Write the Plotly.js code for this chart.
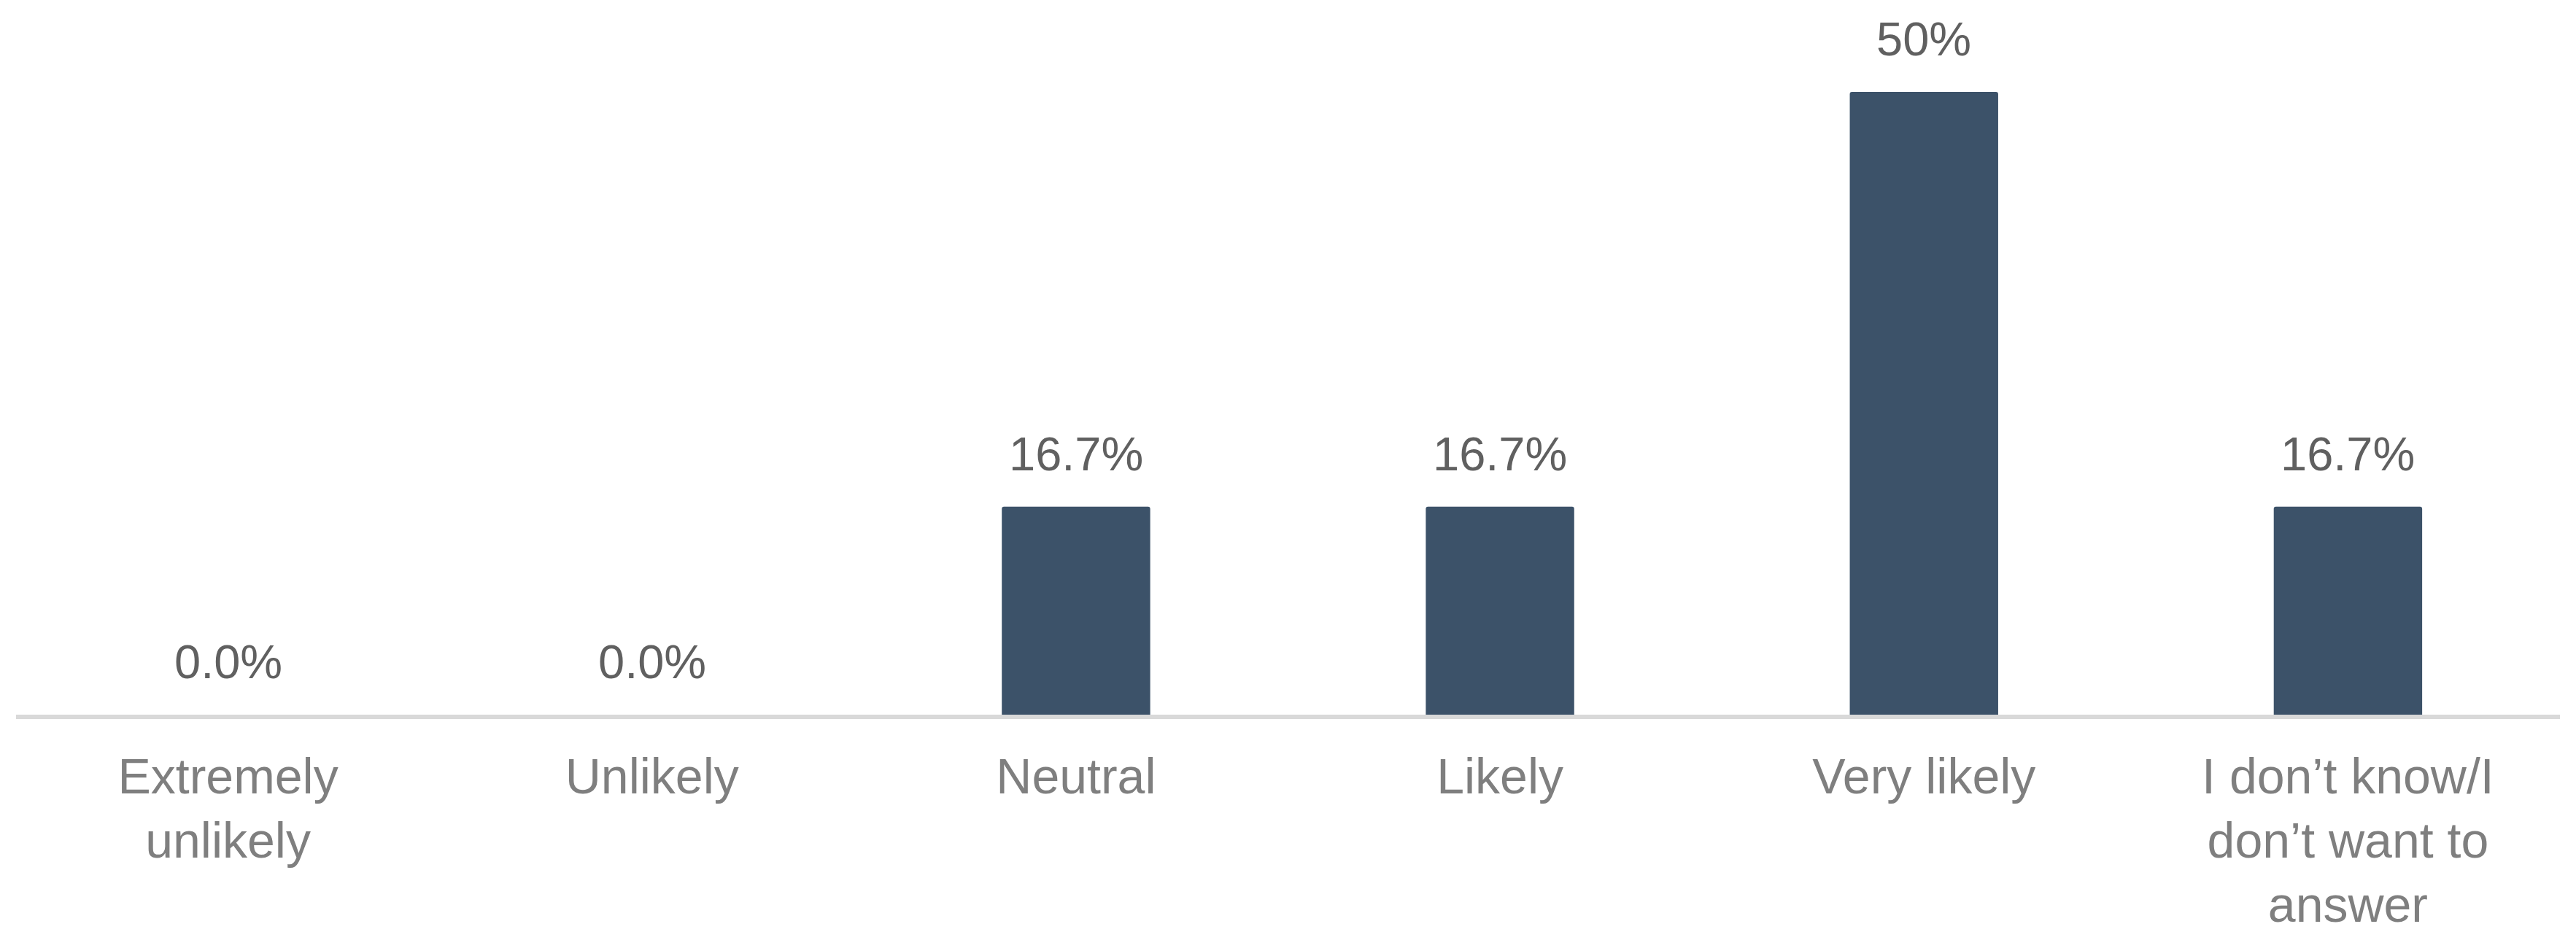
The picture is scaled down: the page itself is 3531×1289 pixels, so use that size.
<!DOCTYPE html>
<html>
<head>
<meta charset="utf-8">
<script src="https://cdn.plot.ly/plotly-3.0.1.min.js"></script>
<style>html,body{margin:0;padding:0;background:#fff;}#chart{width:3531px;height:1289px;}</style>
</head>
<body>
<div id="chart"></div>
<script>
const categories = ["Extremely unlikely", "Unlikely", "Neutral", "Likely", "Very likely", "I don’t know/I don’t want to answer"];
const tickLabels = ["Extremely<br>unlikely", "Unlikely", "Neutral", "Likely", "Very likely", "I don’t know/I<br>don’t want to<br>answer"];
const values = [0, 0, 16.7, 16.7, 50, 16.7];
const valueLabels = ["0.0%", "0.0%", "16.7%", "16.7%", "50%", "16.7%"];

const trace = {
  type: "bar",
  x: categories,
  y: values,
  marker: {color: "#3C5269", cornerradius: 3},
  hoverinfo: "skip"
};

const annotations = categories.map((c, i) => ({
  x: c, y: values[i], xref: "x", yref: "y",
  text: valueLabels[i], showarrow: false,
  yanchor: "bottom", yshift: 34,
  font: {family: "Liberation Sans, Arial, sans-serif", size: 65, color: "#606060"}
}));

const layout = {
  width: 3531, height: 1289,
  margin: {l: 22, r: 22, t: 40, b: 309, pad: 0},
  paper_bgcolor: "#ffffff", plot_bgcolor: "#ffffff",
  bargap: 0.65,
  showlegend: false,
  xaxis: {
    type: "category",
    tickvals: categories, ticktext: tickLabels,
    showline: true, linecolor: "#D9D9D9", linewidth: 6,
    ticks: "", showgrid: false, zeroline: false,
    tickfont: {family: "Liberation Sans, Arial, sans-serif", size: 68, color: "#7F7F7F"},
    ticklabelstandoff: 20
  },
  yaxis: {
    range: [0, 55.04], visible: false, showgrid: false, zeroline: false, fixedrange: true
  },
  annotations: annotations
};

Plotly.newPlot("chart", [trace], layout, {displayModeBar: false, staticPlot: true});
</script>
</body>
</html>
